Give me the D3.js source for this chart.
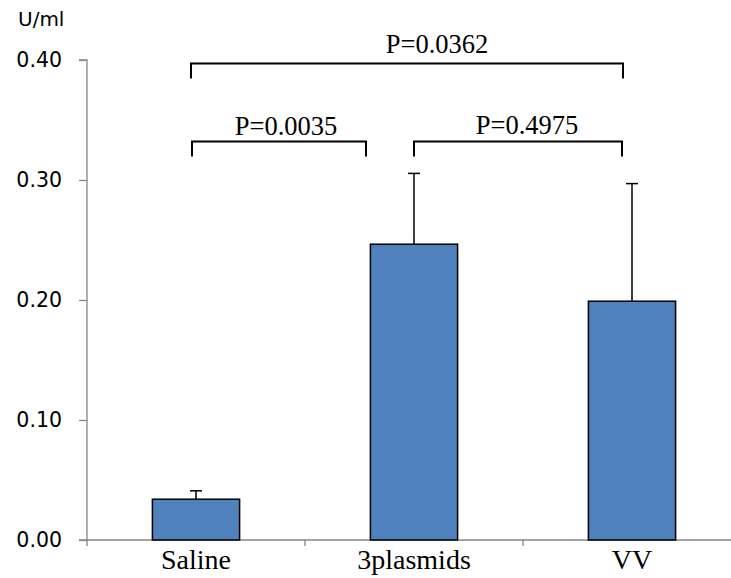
<!DOCTYPE html>
<html><head><meta charset="utf-8">
<script src="https://cdn.jsdelivr.net/npm/d3@7"></script>
<style>body{margin:0;background:#fff}</style>
</head><body>
<svg id="c" width="731" height="578"></svg>
<script>
const categories = ["Saline", "3plasmids", "VV"];
const values = [0.034, 0.2465, 0.199];
const errors = [0.007, 0.059, 0.098];
const yTicks = [0, 0.1, 0.2, 0.3, 0.4];
const yUnit = "U/ml";
const pLabels = ["P=0.0362", "P=0.0035", "P=0.4975"];
const pFrom = ["Saline", "Saline", "3plasmids"];
const pTo = ["VV", "3plasmids", "VV"];

(function () {
const svg = d3.select("#c");
const W = 731;
const mLeft = 87, mBottom = 540, mTop = 60;
const y = d3.scaleLinear().domain([0, 0.4]).range([mBottom, mTop]);
const x = d3.scaleBand().domain(categories).range([mLeft, 741]).paddingInner(0.6).paddingOuter(0.3);
const step = x.step();
const cx = c => x(c) + x.bandwidth() / 2;
const axisColor = "#868686";
const SERIF = "Liberation Serif";
const SANS = "DejaVu Sans";

// Y axis
const yAxis = d3.axisLeft(y).tickValues(yTicks).tickSize(8).tickFormat(d3.format(".2f"));
const gy = svg.append("g").attr("transform", `translate(${mLeft},0)`).call(yAxis)
  .attr("font-family", null).attr("font-size", null);
gy.select(".domain").attr("stroke", axisColor).attr("stroke-width", 1.3).attr("d", `M-8,${mTop}H0V${mBottom + 6}`);
gy.selectAll(".tick line").attr("stroke", axisColor).attr("stroke-width", 1.3);
gy.selectAll(".tick text").attr("x", -25).attr("fill", "#000")
  .attr("font-family", SANS).attr("font-size", 20.5);

svg.append("text").attr("x", 18).attr("y", 26).attr("font-family", SANS).attr("font-size", 20)
  .text(yUnit);

// X axis
const gx = svg.append("g").attr("transform", `translate(0,${mBottom})`);
gx.append("line").attr("x1", mLeft - 8).attr("x2", W).attr("stroke", axisColor).attr("stroke-width", 1.3);
const boundaries = categories.map((c, i) => mLeft + step * (i + 1));
gx.selectAll(".bt").data(boundaries).join("line").attr("class", "bt")
  .attr("x1", d => d).attr("x2", d => d).attr("y1", 0).attr("y2", 6)
  .attr("stroke", axisColor).attr("stroke-width", 1.3);

// Bars
svg.selectAll(".bar").data(categories).join("rect").attr("class", "bar")
  .attr("x", d => x(d)).attr("width", x.bandwidth())
  .attr("y", (d, i) => y(values[i])).attr("height", (d, i) => y(0) - y(values[i]))
  .attr("fill", "#4f81bd").attr("stroke", "#000").attr("stroke-width", 1.5);

// Error bars
const eb = svg.append("g").attr("stroke", "#000").attr("stroke-width", 1.5);
categories.forEach((c, i) => {
  eb.append("line").attr("x1", cx(c)).attr("x2", cx(c)).attr("y1", y(values[i])).attr("y2", y(values[i] + errors[i]));
  eb.append("line").attr("x1", cx(c) - 6).attr("x2", cx(c) + 6).attr("y1", y(values[i] + errors[i])).attr("y2", y(values[i] + errors[i]));
});

// Category labels
categories.forEach(c => {
  svg.append("text").attr("x", cx(c)).attr("y", mBottom + 29).attr("text-anchor", "middle")
    .attr("font-family", SERIF).attr("font-size", 28).text(c);
});

// Significance brackets
const bracketLevel = [0.397, 0.332, 0.332];
const endOffsetL = [-5, -4, 0];
const endOffsetR = [-9, -48, -10];
const textOffset = [30, 7, 9];
const textGap = [11, 7, 8];
pLabels.forEach((lab, i) => {
  const x1 = cx(pFrom[i]) + endOffsetL[i];
  const x2 = cx(pTo[i]) + endOffsetR[i];
  const yy = y(bracketLevel[i]);
  svg.append("path").attr("d", `M${x1},${yy + 15}V${yy}H${x2}V${yy + 15}`)
    .attr("fill", "none").attr("stroke", "#000").attr("stroke-width", 2);
  svg.append("text").attr("x", (x1 + x2) / 2 + textOffset[i]).attr("y", yy - textGap[i])
    .attr("text-anchor", "middle").attr("font-family", SERIF).attr("font-size", 26.5).text(lab);
});
})();
</script>
</body></html>
